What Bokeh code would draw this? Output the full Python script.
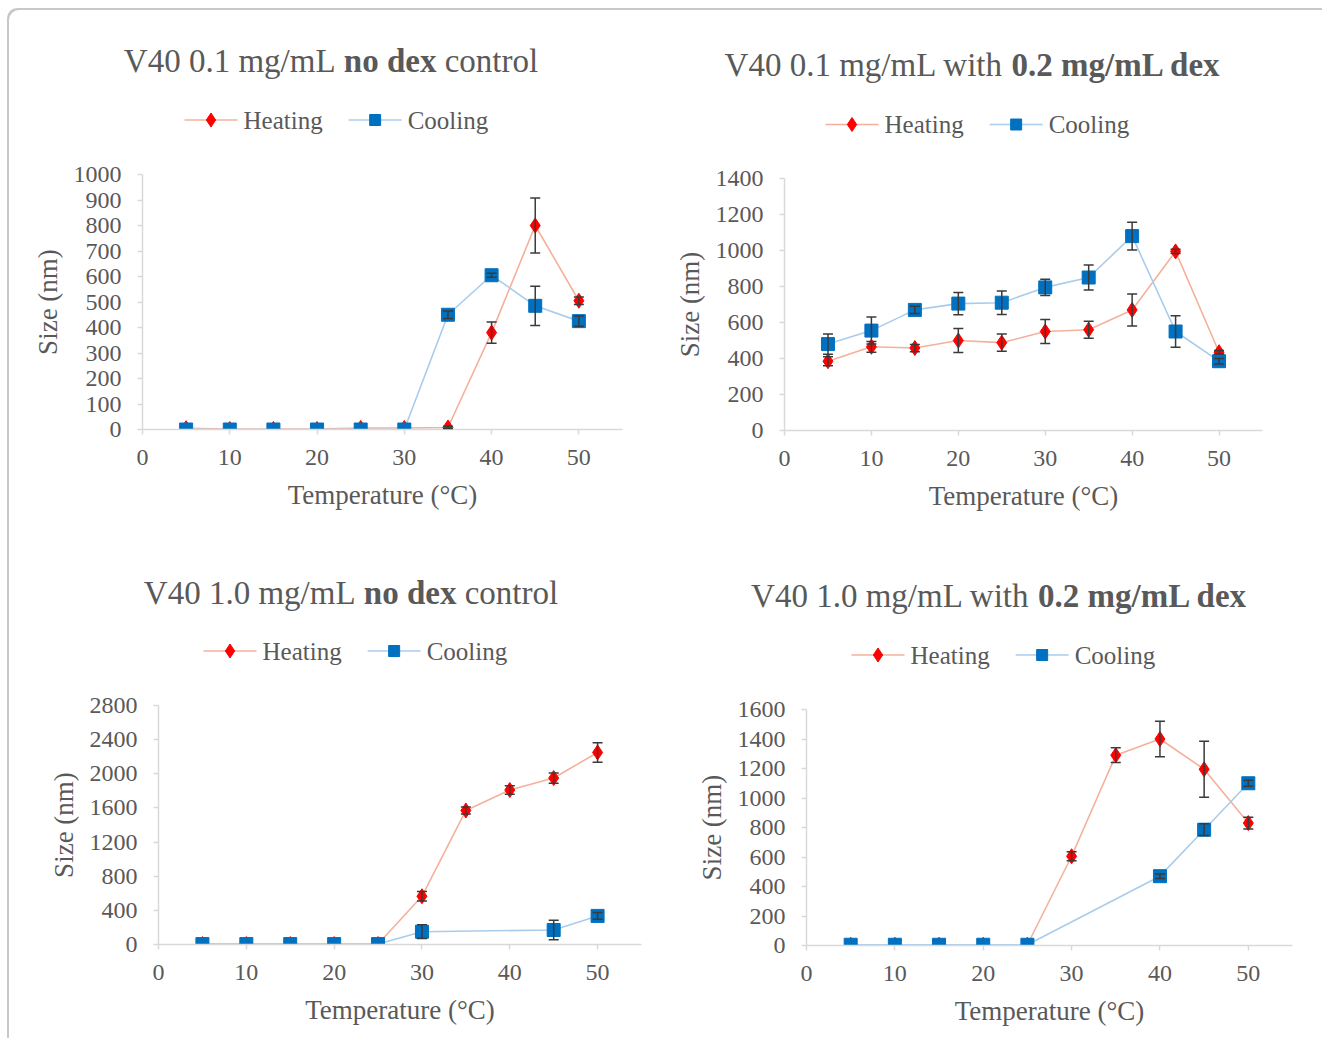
from bokeh.plotting import figure
from bokeh.models import (ColumnDataSource, Whisker, TeeHead, FixedTicker, Range1d)
from bokeh.layouts import column, row
from bokeh.core.properties import value
from bokeh.embed import file_html
from bokeh.resources import INLINE

# ---------------- data ----------------
temps = [5, 10, 15, 20, 25, 30, 35, 40, 45, 50]
x_ticks = [0, 10, 20, 30, 40, 50]

# Panel A: V40 0.1 mg/mL no dex control
a_heat_x = temps
a_heat_y = [5, 2, 2, 2, 6, 6, 8, 380, 800, 505]
a_heat_err = [0, 0, 0, 0, 0, 0, 5, 42, 108, 15]
a_cool_x = temps
a_cool_y = [0, 0, 0, 0, 0, 0, 450, 605, 485, 425]
a_cool_err = [0, 0, 0, 0, 0, 0, 15, 8, 77, 20]

# Panel B: V40 0.1 mg/mL with 0.2 mg/mL dex
b_heat_x = temps
b_heat_y = [385, 465, 458, 500, 488, 550, 560, 670, 995, 435]
b_heat_err = [25, 30, 20, 67, 48, 67, 47, 89, 12, 10]
b_cool_x = temps
b_cool_y = [480, 555, 670, 705, 710, 795, 850, 1080, 550, 385]
b_cool_err = [56, 75, 20, 62, 65, 45, 70, 77, 88, 15]

# Panel C: V40 1.0 mg/mL no dex control
c_heat_x = temps
c_heat_y = [5, 5, 5, 5, 5, 565, 1570, 1810, 1950, 2250]
c_heat_err = [0, 0, 0, 0, 0, 55, 40, 50, 60, 115]
c_cool_x = [5, 10, 15, 20, 25, 30, 45, 50]
c_cool_y = [5, 5, 5, 5, 5, 150, 170, 335]
c_cool_err = [0, 0, 0, 0, 0, 80, 115, 40]

# Panel D: V40 1.0 mg/mL with 0.2 mg/mL dex
d_heat_x = temps
d_heat_y = [5, 5, 5, 5, 5, 605, 1290, 1400, 1195, 830]
d_heat_err = [0, 0, 0, 0, 0, 30, 50, 120, 190, 40]
d_cool_x = [5, 10, 15, 20, 25, 40, 45, 50]
d_cool_y = [5, 5, 5, 5, 5, 470, 785, 1100]
d_cool_err = [0, 0, 0, 0, 0, 15, 40, 20]

titles = [
    [("V40 0.1 mg/mL", "normal"), ("no dex", "bold"), ("control", "normal")],
    [("V40 0.1 mg/mL with", "normal"), ("0.2 mg/mL dex", "bold")],
    [("V40 1.0 mg/mL", "normal"), ("no dex", "bold"), ("control", "normal")],
    [("V40 1.0 mg/mL with", "normal"), ("0.2 mg/mL dex", "bold")],
]
series_names = ["Heating", "Cooling"]
x_label = "Temperature (°C)"
y_label = "Size (nm)"

# ---------------- style ----------------
FONT = "Liberation Serif"
TXT = "#595959"
AXC = "#D9D9D9"
HEAT_LINE = "#F5B09C"
HEAT_MARK = "#FF0000"
COOL_LINE = "#A9CCEC"
COOL_MARK = "#0070C0"
ERR = "#3A3A3A"

REG_W = {' ': 250, 'V': 722, '4': 500, '0': 500, '.': 250, '1': 500, 'm': 778, 'g': 500,
         '/': 278, 'L': 611, 'c': 444, 'o': 500, 'n': 500, 't': 278, 'r': 333, 'l': 278,
         'w': 722, 'i': 278, 'h': 500, 'd': 500, 'e': 444, 'x': 500, '2': 500, 'H': 722,
         'a': 444, 'C': 667}
BOLD_W = {' ': 250, '0': 500, '.': 250, '2': 500, 'm': 833, 'g': 500, '/': 278, 'L': 667,
          'd': 556, 'e': 444, 'x': 500, 'n': 556, 'o': 500}


def text_width(s, style, size):
    tbl = BOLD_W if style == "bold" else REG_W
    return sum(tbl.get(ch, 500) for ch in s) * size / 1000.0


# layout geometry in page coordinates (content starts at 9, 10)
X0, Y0 = 9, 10
XMID, YMID, YEND, XEND = 664, 540, 1040, 1324
panels = [
    dict(ox=X0, oy=Y0, w=XMID - X0, h=YMID - Y0, fl=142, fr=622, ft=174, fb=429,
         ymax=1000, ystep=100, tcx=330.5, tcy=61, lx=184, lcy=121),
    dict(ox=XMID, oy=Y0, w=XEND - XMID, h=YMID - Y0, fl=784, fr=1262, ft=178, fb=430,
         ymax=1400, ystep=200, tcx=972.5, tcy=65, lx=825, lcy=125.5),
    dict(ox=X0, oy=YMID, w=XMID - X0, h=YEND - YMID, fl=158, fr=641, ft=705, fb=944,
         ymax=2800, ystep=400, tcx=350.5, tcy=593, lx=203, lcy=652),
    dict(ox=XMID, oy=YMID, w=XEND - XMID, h=YEND - YMID, fl=806, fr=1292, ft=709, fb=945,
         ymax=1600, ystep=200, tcx=999, tcy=596, lx=851, lcy=656),
]

data = [
    (a_heat_x, a_heat_y, a_heat_err, a_cool_x, a_cool_y, a_cool_err),
    (b_heat_x, b_heat_y, b_heat_err, b_cool_x, b_cool_y, b_cool_err),
    (c_heat_x, c_heat_y, c_heat_err, c_cool_x, c_cool_y, c_cool_err),
    (d_heat_x, d_heat_y, d_heat_err, d_cool_x, d_cool_y, d_cool_err),
]

MAIN_TOP = 20   # top border of the plotting figure (room for the top tick label)


def make_header(g, title_segs):
    hh = g["ft"] - g["oy"] - MAIN_TOP
    w = g["w"]
    p = figure(width=w, height=hh, output_backend="svg", toolbar_location=None,
               x_range=Range1d(0, w), y_range=Range1d(hh, 0),
               x_axis_type=None, y_axis_type=None, min_border=0,
               background_fill_color=None, border_fill_color=None)
    p.outline_line_color = None
    p.grid.visible = False

    # title with mixed weights
    size = 33
    space = 250 * size / 1000.0
    widths = [text_width(s, st, size) for s, st in title_segs]
    total = sum(widths) + space * (len(title_segs) - 1)
    x = g["tcx"] - g["ox"] - total / 2
    ty = g["tcy"] - g["oy"] - 1
    for (s, st), wdt in zip(title_segs, widths):
        p.text(x=[x], y=[ty], text=[s], text_font=value(FONT), text_font_size=value(f"{size}px"),
               text_font_style=value(st), text_color=TXT,
               text_align="left", text_baseline="middle")
        x += wdt + space

    # legend
    gw, st_off, gap, lsize = 53, 6, 26, 25
    lx = g["lx"] - g["ox"]
    ly = g["lcy"] - g["oy"] - 1.5
    items = [(series_names[0], HEAT_LINE, HEAT_MARK, "diamond", 14),
             (series_names[1], COOL_LINE, COOL_MARK, "square", 11)]
    for name, lc, mc, mk, ms in items:
        p.segment(x0=[lx], y0=[ly], x1=[lx + gw], y1=[ly], line_color=lc, line_width=1.6)
        p.scatter(x=[lx + gw / 2], y=[ly], marker=mk, size=ms, fill_color=mc, line_color=mc)
        p.text(x=[lx + gw + st_off], y=[ly], text=[name], text_font=value(FONT),
               text_font_size=value(f"{lsize}px"), text_color=TXT,
               text_align="left", text_baseline="middle")
        lx += gw + st_off + text_width(name, "normal", lsize) + gap
    return p


def make_panel(g, d):
    hx, hy, he, cx, cy, ce = d
    oy = g["ft"] - MAIN_TOP
    h = g["oy"] + g["h"] - oy
    p = figure(width=g["w"], height=h, output_backend="svg", toolbar_location=None,
               x_range=Range1d(0, 55), y_range=Range1d(0, g["ymax"]),
               min_border_left=g["fl"] - g["ox"], min_border_right=g["ox"] + g["w"] - g["fr"],
               min_border_top=MAIN_TOP, min_border_bottom=oy + h - g["fb"],
               background_fill_color=None, border_fill_color=None)
    p.outline_line_color = None
    p.grid.visible = False

    p.xaxis.ticker = FixedTicker(ticks=x_ticks)
    p.yaxis.ticker = FixedTicker(ticks=list(range(0, g["ymax"] + 1, g["ystep"])))
    for ax in (p.xaxis[0], p.yaxis[0]):
        ax.axis_line_color = AXC
        ax.axis_line_width = 1.5
        ax.major_tick_line_color = AXC
        ax.major_tick_line_width = 1.5
        ax.major_tick_out = 5
        ax.major_tick_in = 0
        ax.minor_tick_line_color = None
        ax.major_label_text_font = FONT
        ax.major_label_text_font_size = "24px"
        ax.major_label_text_color = TXT
        ax.axis_label_text_font = FONT
        ax.axis_label_text_font_size = "27px"
        ax.axis_label_text_font_style = "normal"
        ax.axis_label_text_color = TXT
    p.xaxis.axis_label = x_label
    p.yaxis.axis_label = y_label
    p.yaxis.major_label_standoff = 16
    p.xaxis.major_label_standoff = 15
    p.yaxis.axis_label_standoff = 8
    p.xaxis.axis_label_standoff = 12

    hsrc = ColumnDataSource(dict(x=hx, y=hy))
    csrc = ColumnDataSource(dict(x=cx, y=cy))
    p.line("x", "y", source=hsrc, line_color=HEAT_LINE, line_width=1.6)
    p.scatter("x", "y", source=hsrc, marker="diamond", size=15,
              fill_color=HEAT_MARK, line_color=HEAT_MARK)
    p.line("x", "y", source=csrc, line_color=COOL_LINE, line_width=1.6)
    p.scatter("x", "y", source=csrc, marker="square", size=13,
              fill_color=COOL_MARK, line_color=COOL_MARK)

    for xs, ys, es in ((hx, hy, he), (cx, cy, ce)):
        idx = [i for i, e in enumerate(es) if e > 0]
        wsrc = ColumnDataSource(dict(
            x=[xs[i] for i in idx],
            lo=[ys[i] - es[i] for i in idx],
            hi=[ys[i] + es[i] for i in idx]))
        wk = Whisker(base="x", lower="lo", upper="hi", source=wsrc, dimension="height",
                     line_color=ERR, line_width=1.5, level="overlay",
                     upper_head=TeeHead(size=10, line_color=ERR, line_width=1.5),
                     lower_head=TeeHead(size=10, line_color=ERR, line_width=1.5))
        p.add_layout(wk)
    return p


# the header sits in its own row so that its frame is not aligned to the plot's frame
cells = [column(row(make_header(g, t)), make_panel(g, d))
         for g, d, t in zip(panels, data, titles)]

root = column(row(cells[0], cells[1]), row(cells[2], cells[3]))
root.styles = {"margin-left": f"{X0}px", "margin-top": f"{Y0}px",
               "box-shadow": "-2px -2px 0 0 #c8c8c8", "border-top-left-radius": "10px"}

open("out.html", "w").write(file_html(root, INLINE))
